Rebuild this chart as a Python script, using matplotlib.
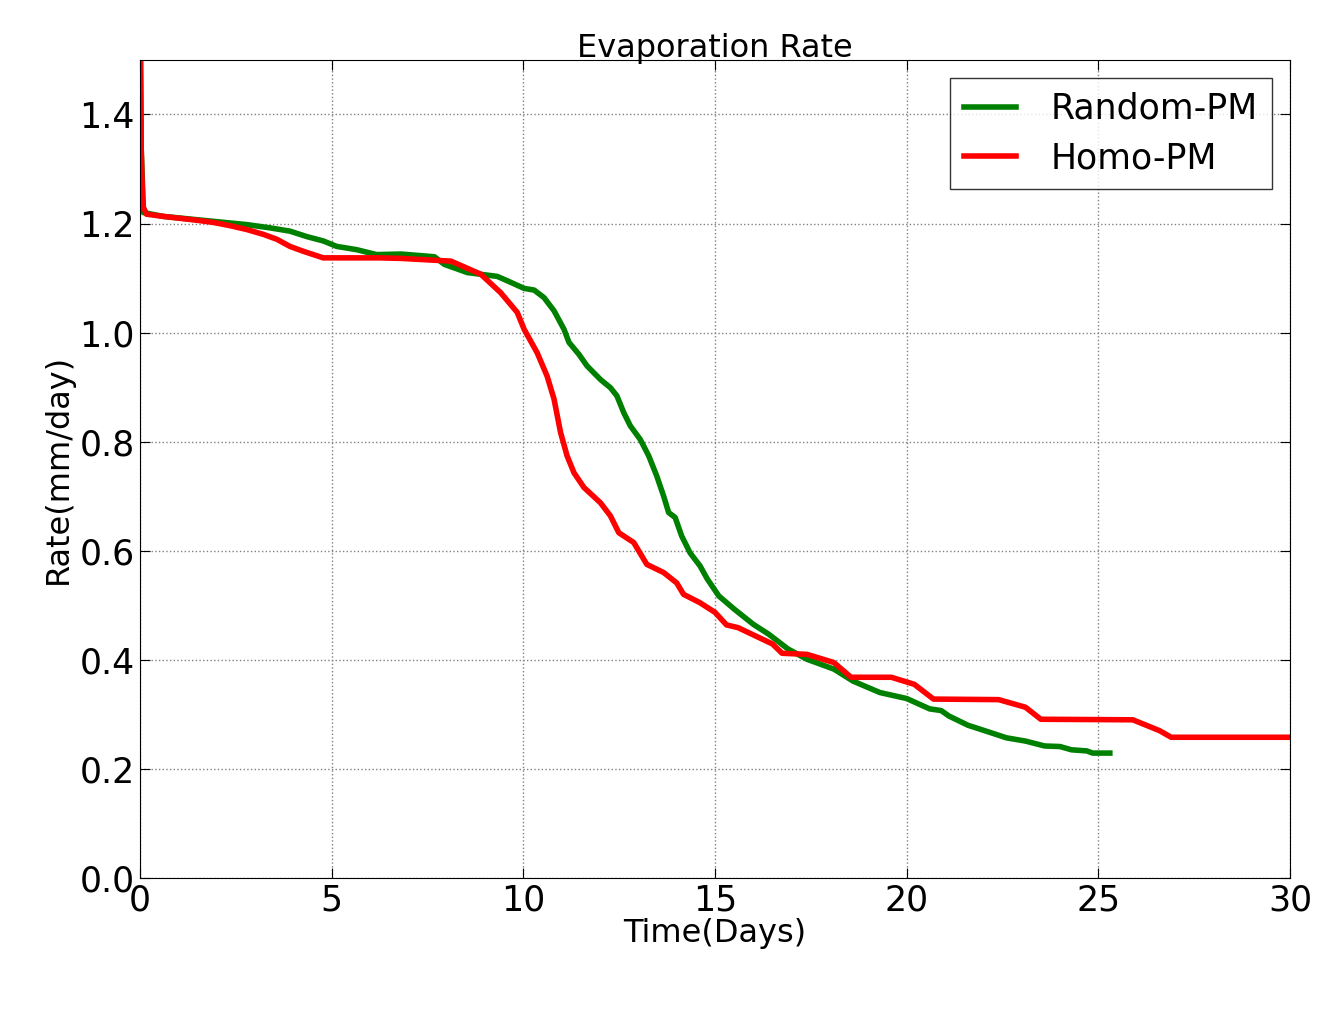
import matplotlib
matplotlib.use("Agg")
import matplotlib.pyplot as plt

# Homo-PM (red)
homo_t = [0.0, 0.03, 0.07, 0.17, 0.61, 1.48, 1.91, 2.35, 2.78, 3.22, 3.57, 3.91, 4.26, 4.52, 4.78,
          6.26, 6.81, 8.11, 8.89, 9.41, 9.84, 10.02, 10.36, 10.62, 10.80, 10.97, 11.14, 11.32,
          11.58, 12.01, 12.27, 12.49, 12.88, 13.22, 13.66, 14.0, 14.18, 14.6, 15.0, 15.3, 15.6,
          16.5, 16.75, 17.4, 18.1, 18.55, 19.6, 20.2, 20.7, 22.4, 23.1, 23.5, 25.9, 26.6, 26.9, 30.0]
homo_r = [1.60, 1.336, 1.232, 1.217, 1.213, 1.206, 1.202, 1.196, 1.189, 1.180, 1.171, 1.158, 1.149,
          1.143, 1.137, 1.137, 1.136, 1.131, 1.107, 1.073, 1.037, 1.006, 0.963, 0.920, 0.878,
          0.817, 0.774, 0.743, 0.716, 0.688, 0.664, 0.633, 0.615, 0.575, 0.560, 0.541, 0.520,
          0.505, 0.487, 0.464, 0.459, 0.429, 0.412, 0.410, 0.395, 0.368, 0.368, 0.355, 0.328,
          0.327, 0.313, 0.291, 0.290, 0.270, 0.258, 0.258]

# Random-PM (green)
rand_t = [0.0, 0.03, 0.09, 0.61, 1.91, 2.78, 3.39, 3.91, 4.35, 4.78, 5.13, 5.65, 6.17, 6.81, 7.68,
          7.94, 8.54, 9.32, 9.58, 10.02, 10.28, 10.54, 10.80, 11.06, 11.19, 11.45, 11.66, 12.01,
          12.27, 12.44, 12.62, 12.79, 13.05, 13.27, 13.48, 13.66, 13.79, 13.96, 14.13, 14.35,
          14.61, 14.8, 15.1, 15.5, 16.0, 16.4, 16.9, 17.4, 18.1, 18.6, 19.3, 20.0, 20.6, 20.9,
          21.1, 21.6, 22.3, 22.6, 23.1, 23.6, 24.0, 24.3, 24.7, 24.85, 25.3]
rand_r = [1.60, 1.336, 1.220, 1.213, 1.204, 1.198, 1.192, 1.186, 1.176, 1.168, 1.158, 1.152, 1.143,
          1.144, 1.139, 1.125, 1.110, 1.103, 1.095, 1.081, 1.078, 1.064, 1.040, 1.006, 0.982,
          0.960, 0.939, 0.914, 0.899, 0.884, 0.853, 0.829, 0.804, 0.774, 0.737, 0.700, 0.670,
          0.661, 0.627, 0.596, 0.572, 0.548, 0.517, 0.493, 0.465, 0.447, 0.420, 0.401, 0.383,
          0.361, 0.340, 0.329, 0.310, 0.307, 0.297, 0.280, 0.264, 0.257, 0.251, 0.242, 0.241,
          0.235, 0.233, 0.229, 0.229]

fig = plt.figure(figsize=(13.34, 10.15), dpi=100)
ax = fig.add_axes([0.105, 0.135, 0.862, 0.806])

ax.plot(rand_t, rand_r, color="green", lw=4, label="Random-PM")
ax.plot(homo_t, homo_r, color="red", lw=4, label="Homo-PM")

ax.set_xlim(0, 30)
ax.set_ylim(0, 1.5)
ax.set_xticks([0, 5, 10, 15, 20, 25, 30])
ax.set_yticks([0.0, 0.2, 0.4, 0.6, 0.8, 1.0, 1.2, 1.4])
ax.set_yticklabels(["0.0", "0.2", "0.4", "0.6", "0.8", "1.0", "1.2", "1.4"])
ax.grid(True, color="gray", linestyle=":", linewidth=1)
ax.tick_params(direction="in", top=True, right=True, length=7, labelsize=25, pad=4)

ax.set_title("Evaporation Rate", fontsize=23, pad=2)
ax.set_xlabel("Time(Days)", fontsize=23, labelpad=0)
ax.set_ylabel("Rate(mm/day)", fontsize=23, labelpad=4)

leg = ax.legend(loc="upper right", fontsize=25, fancybox=False, handlelength=1.5,
                borderpad=0.4, labelspacing=0.45, handletextpad=1.0, borderaxespad=0,
                bbox_to_anchor=(0.984, 0.978))
leg.get_frame().set_edgecolor("black")

fig.savefig("out.png", dpi=100, facecolor="white")
